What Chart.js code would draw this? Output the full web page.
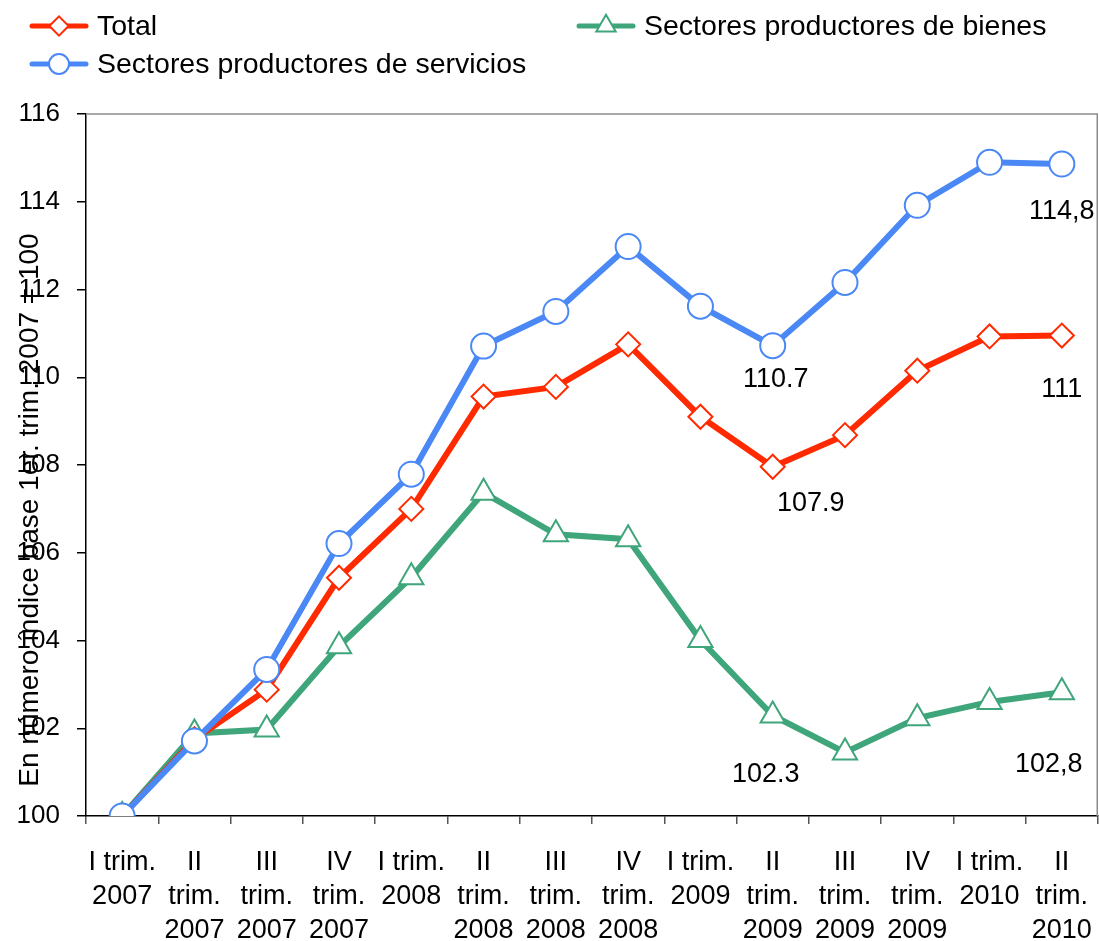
<!DOCTYPE html>
<html>
<head>
<meta charset="utf-8">
<script src="https://cdn.jsdelivr.net/npm/chart.js@4/dist/chart.umd.min.js"></script>
<style>
  html, body { margin: 0; padding: 0; background: #fff; overflow: hidden; }
  canvas { display: block; }
</style>
</head>
<body>
<canvas id="chart" width="1099" height="941"></canvas>
<script>
// categories and series values
const categories = [
  ["I trim.", "2007"], ["II", "trim.", "2007"], ["III", "trim.", "2007"], ["IV", "trim.", "2007"],
  ["I trim.", "2008"], ["II", "trim.", "2008"], ["III", "trim.", "2008"], ["IV", "trim.", "2008"],
  ["I trim.", "2009"], ["II", "trim.", "2009"], ["III", "trim.", "2009"], ["IV", "trim.", "2009"],
  ["I trim.", "2010"], ["II", "trim.", "2010"]
];
const total     = [100, 101.75, 102.88, 105.43, 107.0, 109.56, 109.78, 110.75, 109.1, 107.96, 108.68, 110.15, 110.93, 110.95];
const bienes    = [100, 101.88, 101.97, 103.87, 105.44, 107.37, 106.42, 106.31, 104.01, 102.29, 101.45, 102.23, 102.6, 102.82];
const servicios = [100, 101.71, 103.34, 106.21, 107.79, 110.71, 111.5, 112.98, 111.62, 110.72, 112.16, 113.92, 114.9, 114.86];
const yTicks = { min: 100, max: 116, step: 2 };
const yTitle = "En número índice base 1er. trim. 2007 = 100";

// value notes: [dataset index, point index, text]
const notes = [
  [2, 9, "110.7"], [2, 13, "114,8"],
  [0, 9, "107.9"], [0, 13, "111"],
  [1, 9, "102.3"], [1, 13, "102,8"]
];

const FONT = "'Liberation Sans', Arial, sans-serif";
const RED = "#ff2a00", GREEN = "#3fa57a", BLUE = "#4a88f5";

// offsets of the notes from their points
const noteOffsets = [[3, 34], [0, 48], [38, 37], [0, 54], [-7, 59], [-13, 72]];

const extras = {
  id: "extras",
  afterDraw(chart) {
    const { ctx, chartArea: a } = chart;
    ctx.save();
    // grey frame top and right
    ctx.strokeStyle = "#8c8c8c";
    ctx.lineWidth = 1.5;
    ctx.beginPath();
    ctx.moveTo(a.left, a.top);
    ctx.lineTo(a.right - 0.75, a.top);
    ctx.lineTo(a.right - 0.75, a.bottom);
    ctx.stroke();

    // notes
    ctx.fillStyle = "#000";
    ctx.font = "27px " + FONT;
    ctx.textAlign = "center";
    ctx.textBaseline = "middle";
    notes.forEach(([d, i, t], k) => {
      const p = chart.getDatasetMeta(d).data[i];
      ctx.fillText(t, p.x + noteOffsets[k][0], p.y + noteOffsets[k][1]);
    });

    // y title, overlapping the ticks as in the original
    ctx.save();
    ctx.translate(30, 510);
    ctx.rotate(-Math.PI / 2);
    ctx.font = "28px " + FONT;
    ctx.fillText(yTitle, 0, 0);
    ctx.restore();

    // legend
    const items = [[0, 30, 26], [1, 577, 26], [2, 30, 64]];
    ctx.textAlign = "left";
    ctx.font = "28.5px " + FONT;
    items.forEach(([d, x, y]) => {
      const ds = chart.data.datasets[d];
      ctx.strokeStyle = ds.borderColor;
      ctx.lineWidth = 5;
      ctx.lineCap = "round";
      ctx.beginPath();
      ctx.moveTo(x + 2, y);
      ctx.lineTo(x + 56, y);
      ctx.stroke();
      ctx.fillStyle = "#fff";
      ctx.lineWidth = 2;
      Chart.helpers.drawPoint(ctx, {
        pointStyle: ds.pointStyle,
        radius: ds.pointRadius * 0.8,
        borderWidth: 2
      }, x + 29, y);
      ctx.fillStyle = "#000";
      ctx.fillText(ds.label, x + 67, y + 1);
    });
    ctx.restore();
  }
};

Chart.defaults.font.family = FONT;
Chart.defaults.color = "#000";

new Chart(document.getElementById("chart"), {
  type: "line",
  data: {
    labels: categories,
    datasets: [
      {
        label: "Total", data: total, borderColor: RED, backgroundColor: "#fff",
        borderWidth: 6, pointStyle: "rectRot", pointRadius: 12, pointBorderWidth: 2,
        pointBackgroundColor: "#fff", pointBorderColor: RED, order: 1
      },
      {
        label: "Sectores productores de bienes", data: bienes, borderColor: GREEN, backgroundColor: "#fff",
        borderWidth: 6, pointStyle: "triangle", pointRadius: 14, pointBorderWidth: 2,
        pointBackgroundColor: "#fff", pointBorderColor: GREEN, order: 2
      },
      {
        label: "Sectores productores de servicios", data: servicios, borderColor: BLUE, backgroundColor: "#fff",
        borderWidth: 6, pointStyle: "circle", pointRadius: 12.5, pointBorderWidth: 2,
        pointBackgroundColor: "#fff", pointBorderColor: BLUE, order: 0
      }
    ]
  },
  options: {
    responsive: false,
    animation: false,
    layout: { autoPadding: false, padding: { top: 114, left: 0, right: 1, bottom: 0 } },
    plugins: { legend: { display: false }, tooltip: { enabled: false } },
    elements: { line: { tension: 0 } },
    scales: {
      x: {
        offset: true,
        grid: { offset: true, drawOnChartArea: false, tickLength: 8, color: "#555", lineWidth: 1.5 },
        border: { color: "#000", width: 1.5 },
        ticks: { autoSkip: false, maxRotation: 0, padding: 22, font: { size: 27, lineHeight: "34px" } },
        afterFit(s) { s.height = 125; s.paddingLeft = 0; s.paddingRight = 0; }
      },
      y: {
        min: yTicks.min, max: yTicks.max,
        grid: { drawOnChartArea: false, tickLength: 9, color: "#000", lineWidth: 1.5 },
        border: { color: "#000", width: 1.5 },
        ticks: { stepSize: yTicks.step, padding: 17, font: { size: 26 } },
        afterFit(s) { s.width = 86; s.paddingTop = 0; s.paddingBottom = 0; }
      }
    }
  },
  plugins: [extras]
});
</script>
</body>
</html>
